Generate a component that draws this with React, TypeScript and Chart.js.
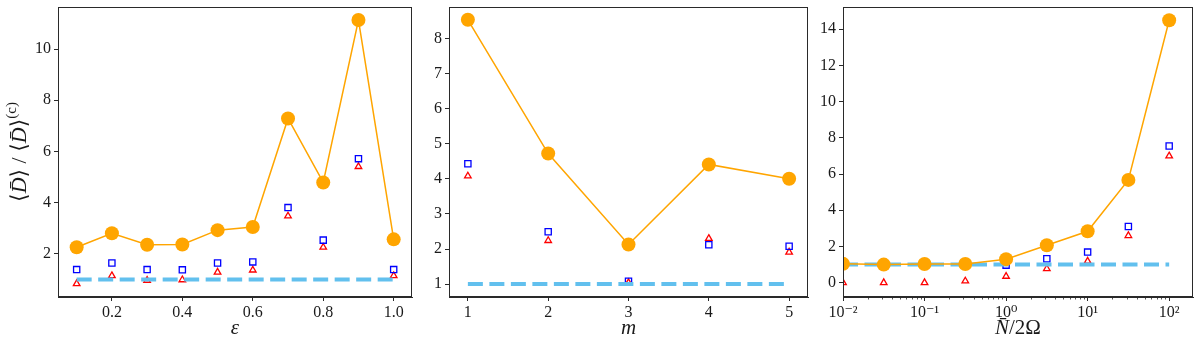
import React, { useEffect, useRef } from 'react';
import { Chart, registerables } from 'chart.js';
Chart.register(...registerables);

const FONT = "'Liberation Serif', 'DejaVu Serif', serif";

// ---------- data ----------
const EPS = [0.1, 0.2, 0.3, 0.4, 0.5, 0.6, 0.7, 0.8, 0.9, 1.0];
const P1_ORANGE = [2.26, 2.81, 2.36, 2.37, 2.93, 3.05, 7.29, 4.79, 11.13, 2.57];
const P1_BLUE = [1.39, 1.65, 1.39, 1.38, 1.65, 1.69, 3.81, 2.54, 5.72, 1.39];
const P1_RED = [0.84, 1.15, 0.97, 0.99, 1.29, 1.37, 3.48, 2.26, 5.41, 1.15];
const P1_XTICKS = [0.2, 0.4, 0.6, 0.8, 1.0];
const P1_XLABELS = ['0.2', '0.4', '0.6', '0.8', '1.0'];
const P1_YTICKS = [2, 4, 6, 8, 10];

const M = [1, 2, 3, 4, 5];
const P2_ORANGE = [8.53, 4.72, 2.13, 4.41, 4.0];
const P2_BLUE = [4.43, 2.49, 1.08, 2.12, 2.08];
const P2_RED = [4.08, 2.24, 1.04, 2.3, 1.91];
const P2_XTICKS = [1, 2, 3, 4, 5];
const P2_XLABELS = ['1', '2', '3', '4', '5'];
const P2_YTICKS = [1, 2, 3, 4, 5, 6, 7, 8];

const NRATIO = [0.01, 0.0316, 0.1, 0.316, 1, 3.16, 10, 31.6, 100];
const P3_ORANGE = [1.04, 1.0, 1.03, 1.03, 1.3, 2.07, 2.84, 5.68, 14.5];
const P3_BLUE = [1.0, 1.0, 1.0, 1.0, 0.97, 1.32, 1.69, 3.1, 7.55];
const P3_RED = [0.0, 0.0, 0.0, 0.09, 0.35, 0.77, 1.19, 2.6, 7.0];
const P3_XTICKS = [0.01, 0.1, 1, 10, 100];
const P3_XLABELS = ['10\u207B\u00B2', '10\u207B\u00B9', '10\u2070', '10\u00B9', '10\u00B2'];
const P3_YTICKS = [0, 2, 4, 6, 8, 10, 12, 14];

const REF_LEVEL = 1;

const ORANGE = '#FFA500';
const BLUE = '#0000FF';
const RED = '#FF0000';
const SKY = '#62C0EE';
const AXIS = '#2a2a2a';

type Seg = { t: string; italic?: boolean; sup?: boolean };

function drawSegs(ctx: CanvasRenderingContext2D, segs: Seg[], cx: number, cy: number, size: number) {
  const fontFor = (s: Seg) => `${s.italic ? 'italic ' : ''}${s.sup ? Math.round(size * 0.7) : size}px ${FONT}`;
  let total = 0;
  const widths = segs.map((s) => {
    ctx.font = fontFor(s);
    const w = ctx.measureText(s.t).width;
    total += w;
    return w;
  });
  let x = cx - total / 2;
  ctx.textBaseline = 'alphabetic';
  ctx.textAlign = 'left';
  ctx.fillStyle = '#1a1a1a';
  segs.forEach((s, i) => {
    ctx.font = fontFor(s);
    ctx.fillText(s.t, x, cy + (s.sup ? -size * 0.45 : 0));
    x += widths[i];
  });
}

type PanelSpec = {
  left: number;
  width: number;
  yAxisWidth: number;
  padRight: number;
  xType: 'linear' | 'logarithmic';
  xMin: number;
  xMax: number;
  yMin: number;
  yMax: number;
  xs: number[];
  orange: number[];
  blue: number[];
  red: number[];
  xTicks: number[];
  xLabels: string[];
  yTicks: number[];
  xTitle: Seg[];
  yTitle?: Seg[];
  minor?: boolean;
};

const PANELS: PanelSpec[] = [
  {
    left: 0, width: 420, yAxisWidth: 58, padRight: 8,
    xType: 'linear', xMin: 0.047, xMax: 1.052, yMin: 0.32, yMax: 11.64,
    xs: EPS, orange: P1_ORANGE, blue: P1_BLUE, red: P1_RED,
    xTicks: P1_XTICKS, xLabels: P1_XLABELS, yTicks: P1_YTICKS,
    xTitle: [{ t: '\u03B5', italic: true }],
    yTitle: [
      { t: '\u27E8' }, { t: 'D\u0304', italic: true }, { t: '\u27E9 / \u27E8' },
      { t: 'D\u0304', italic: true }, { t: '\u27E9' }, { t: '(c)', sup: true },
    ],
  },
  {
    left: 420, width: 395, yAxisWidth: 29, padRight: 5,
    xType: 'linear', xMin: 0.765, xMax: 5.235, yMin: 0.633, yMax: 8.895,
    xs: M, orange: P2_ORANGE, blue: P2_BLUE, red: P2_RED,
    xTicks: P2_XTICKS, xLabels: P2_XLABELS, yTicks: P2_YTICKS,
    xTitle: [{ t: 'm', italic: true }],
  },
  {
    left: 815, width: 385, yAxisWidth: 28, padRight: 4,
    xType: 'logarithmic', xMin: 0.01, xMax: 196, yMin: -0.79, yMax: 15.23,
    xs: NRATIO, orange: P3_ORANGE, blue: P3_BLUE, red: P3_RED,
    xTicks: P3_XTICKS, xLabels: P3_XLABELS, yTicks: P3_YTICKS,
    xTitle: [{ t: 'N\u0304', italic: true }, { t: '/2\u03A9' }],
    minor: true,
  },
];

const HEIGHT = 345;

function Panel({ spec }: { spec: PanelSpec }) {
  const ref = useRef<HTMLCanvasElement | null>(null);
  useEffect(() => {
    if (!ref.current) return;
    const pts = (ys: number[]) => spec.xs.map((x, i) => ({ x, y: ys[i] }));
    const dashPts = [
      { x: spec.xs[0], y: REF_LEVEL },
      { x: spec.xs[spec.xs.length - 1], y: REF_LEVEL },
    ];
    const overlay = {
      id: 'overlay',
      afterDraw(chart: any) {
        const ctx = chart.ctx as CanvasRenderingContext2D;
        const a = chart.chartArea;
        ctx.save();
        ctx.strokeStyle = AXIS;
        ctx.lineWidth = 1;
        ctx.strokeRect(Math.round(a.left) + 0.5, Math.round(a.top) + 0.5, Math.round(a.right - a.left) - 1, Math.round(a.bottom - a.top) - 1);
        if (spec.minor) {
          const xs = chart.scales.x;
          ctx.beginPath();
          for (let d = -2; d <= 2; d++) {
            for (let k = 2; k <= 9; k++) {
              const v = k * Math.pow(10, d);
              if (v > spec.xMax) continue;
              const px = Math.round(xs.getPixelForValue(v)) + 0.5;
              ctx.moveTo(px, a.bottom);
              ctx.lineTo(px, a.bottom + 2.5);
            }
          }
          ctx.lineWidth = 0.8;
          ctx.stroke();
        }
        const cx = (a.left + a.right) / 2;
        drawSegs(ctx, spec.xTitle, cx, 334, 21);
        if (spec.yTitle) {
          ctx.translate(26, (a.top + a.bottom) / 2);
          ctx.rotate(-Math.PI / 2);
          drawSegs(ctx, spec.yTitle, 0, 0, 22);
        }
        ctx.restore();
      },
    };
    const chart = new Chart(ref.current, {
      type: 'scatter',
      data: {
        datasets: [
          {
            data: pts(spec.orange), showLine: true, borderColor: ORANGE, backgroundColor: ORANGE,
            borderWidth: 1.5, pointRadius: 7, pointBorderWidth: 0, pointBackgroundColor: ORANGE,
            order: 0, clip: 0,
          },
          {
            data: dashPts, showLine: true, borderColor: SKY, borderWidth: 4, borderDash: [15, 6.5],
            borderCapStyle: 'butt', pointRadius: 0, order: 1, clip: 0,
          },
          {
            data: pts(spec.blue), pointStyle: 'rect', pointRadius: 4.4, borderColor: BLUE,
            backgroundColor: 'rgba(0,0,0,0)', pointBorderWidth: 1.3, order: 2, clip: 0,
          },
          {
            data: pts(spec.red), pointStyle: 'triangle', pointRadius: 3.8, borderColor: RED,
            backgroundColor: 'rgba(0,0,0,0)', pointBorderWidth: 1.3, order: 3, clip: 0,
          },
        ] as any,
      },
      options: {
        animation: false,
        responsive: false,
        devicePixelRatio: 1,
        events: [],
        layout: { padding: { left: 0, right: spec.padRight, top: 4, bottom: 0 } },
        plugins: { legend: { display: false }, tooltip: { enabled: false } },
        scales: {
          x: {
            type: spec.xType,
            min: spec.xMin,
            max: spec.xMax,
            afterBuildTicks: (s: any) => { s.ticks = spec.xTicks.map((v) => ({ value: v })); },
            afterFit: (s: any) => { s.height = 48; s.paddingLeft = 0; s.paddingRight = 0; },
            ticks: {
              autoSkip: false, maxRotation: 0, minRotation: 0, padding: 2, color: '#1a1a1a',
              font: { family: FONT, size: 16 },
              callback: (_v: any, i: number) => spec.xLabels[i],
            },
            grid: { display: true, drawOnChartArea: false, drawTicks: true, tickLength: 4, color: AXIS, tickColor: AXIS, tickWidth: 1 },
            border: { display: true, color: AXIS, width: 1 },
          } as any,
          y: {
            type: 'linear',
            min: spec.yMin,
            max: spec.yMax,
            afterBuildTicks: (s: any) => { s.ticks = spec.yTicks.map((v) => ({ value: v })); },
            afterFit: (s: any) => { s.width = spec.yAxisWidth; s.paddingTop = 0; s.paddingBottom = 0; },
            ticks: {
              autoSkip: false, padding: 3, color: '#1a1a1a',
              font: { family: FONT, size: 16 },
              callback: (v: any) => String(v),
            },
            grid: { display: true, drawOnChartArea: false, drawTicks: true, tickLength: 4, color: AXIS, tickColor: AXIS, tickWidth: 1 },
            border: { display: true, color: AXIS, width: 1 },
          } as any,
        },
      },
      plugins: [overlay],
    });
    return () => chart.destroy();
  }, [spec]);
  return (
    <div style={{ position: 'absolute', left: spec.left, top: 0, width: spec.width, height: HEIGHT }}>
      <canvas ref={ref} width={spec.width} height={HEIGHT} style={{ display: 'block' }} />
    </div>
  );
}

export default function App() {
  return (
    <div style={{ position: 'fixed', left: 0, top: 0, width: 1200, height: HEIGHT, background: '#fff', overflow: 'hidden' }}>
      {PANELS.map((p, i) => (
        <Panel key={i} spec={p} />
      ))}
    </div>
  );
}
